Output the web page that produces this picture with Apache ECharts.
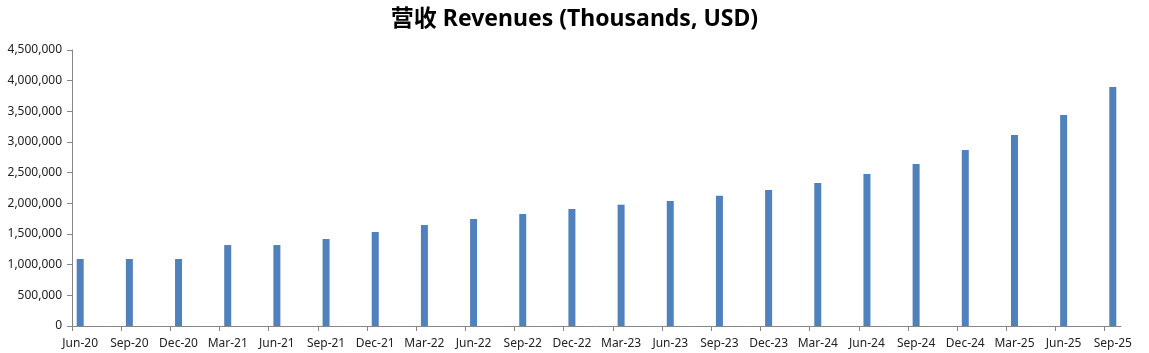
<!DOCTYPE html>
<html>
<head>
<meta charset="utf-8">
<script src="https://cdn.jsdelivr.net/npm/echarts@6/dist/echarts.min.js"></script>
<style>
  html, body { margin: 0; padding: 0; background: #fff; }
  #chart { width: 1149px; height: 353px; }
</style>
</head>
<body>
<div id="chart"></div>
<script>
// quarter-end labels and revenue (thousands USD)
const quarters = ['Jun-20', 'Sep-20', 'Dec-20', 'Mar-21', 'Jun-21', 'Sep-21', 'Dec-21', 'Mar-22',
    'Jun-22', 'Sep-22', 'Dec-22', 'Mar-23', 'Jun-23', 'Sep-23', 'Dec-23', 'Mar-24', 'Jun-24',
    'Sep-24', 'Dec-24', 'Mar-25', 'Jun-25', 'Sep-25'];
const revenues = [1092000, 1092000, 1092000, 1320000, 1320000, 1418000, 1533000, 1647000,
    1745000, 1826000, 1908000, 1978000, 2038000, 2125000, 2217000, 2332000, 2478000,
    2641000, 2870000, 3114000, 3440000, 3897000];
const yTicks = [0, 500000, 1000000, 1500000, 2000000, 2500000, 3000000, 3500000, 4000000, 4500000];

// x axis runs in months: each quarter sits in the middle of its month
const monthOf = (i) => i * 3;
const tickMonths = quarters.map((q, i) => monthOf(i));
const labelMonths = quarters.map((q, i) => monthOf(i) + 0.5);

const chart = echarts.init(document.getElementById('chart'));
const axisColor = '#868686';
const textFont = 'Noto Sans';

chart.setOption({
    animation: false,
    title: {
        text: '营收 Revenues (Thousands, USD)',
        left: 'center',
        top: 3,
        textStyle: {
            fontFamily: 'Noto Sans, Noto Sans CJK SC',
            fontWeight: 'bold',
            fontSize: 23,
            color: '#000'
        }
    },
    grid: { left: 72, right: 28, top: 50, bottom: 27 },
    xAxis: {
        type: 'value',
        min: 0,
        max: monthOf(quarters.length - 1) + 1,
        splitLine: { show: false },
        axisLine: { show: true, lineStyle: { color: axisColor } },
        axisTick: { show: true, length: 5, lineStyle: { color: axisColor }, customValues: tickMonths },
        axisLabel: {
            customValues: labelMonths,
            margin: 12,
            fontFamily: textFont,
            fontSize: 12,
            color: '#222',
            formatter: (v) => quarters[Math.round((v - 0.5) / 3)] || ''
        }
    },
    yAxis: {
        type: 'value',
        min: yTicks[0],
        max: yTicks[yTicks.length - 1],
        interval: yTicks[1] - yTicks[0],
        splitLine: { show: false },
        axisLine: { show: true, lineStyle: { color: axisColor } },
        axisTick: { show: true, length: 5, lineStyle: { color: axisColor } },
        axisLabel: {
            margin: 10,
            fontFamily: textFont,
            fontSize: 12,
            color: '#222',
            formatter: (v) => v.toLocaleString('en-US')
        }
    },
    series: [{
        type: 'bar',
        barWidth: 7,
        itemStyle: { color: '#4F81BD' },
        data: revenues.map((v, i) => [labelMonths[i], v])
    }]
});
</script>
</body>
</html>
